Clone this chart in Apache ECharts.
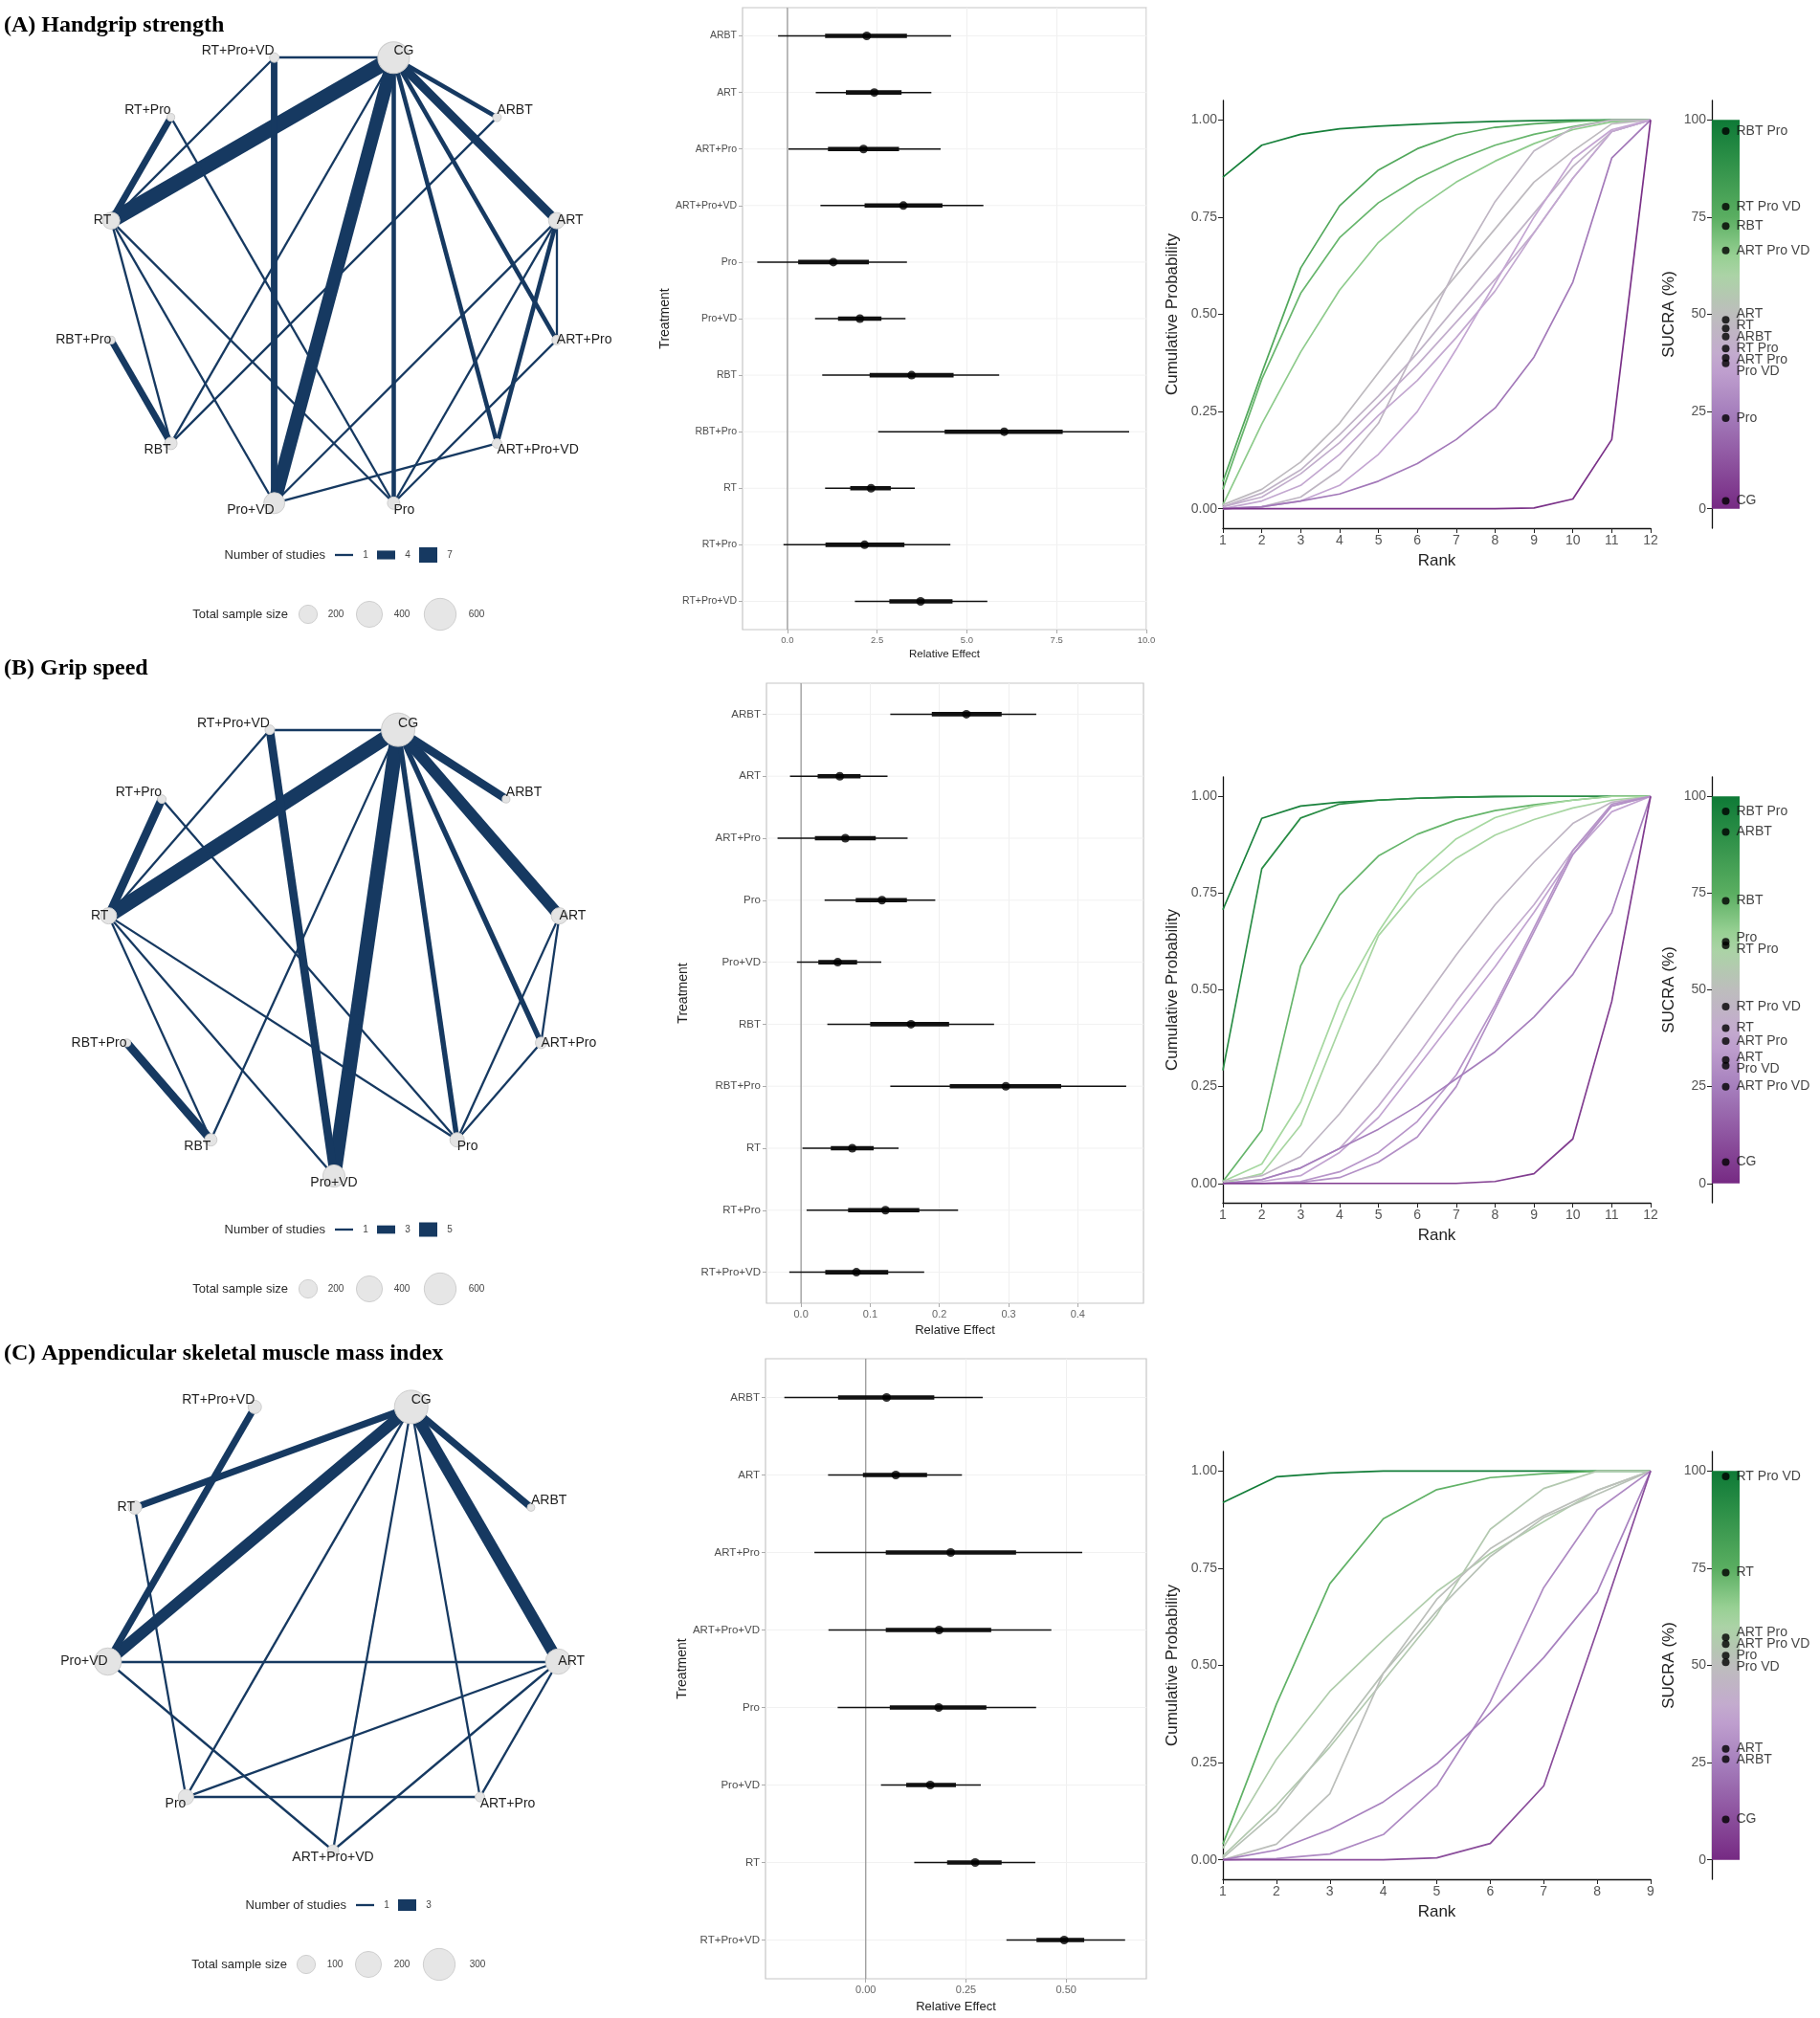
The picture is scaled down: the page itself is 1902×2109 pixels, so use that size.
<!DOCTYPE html>
<html>
<head>
<meta charset="utf-8">
<script src="https://cdn.jsdelivr.net/npm/echarts@6/dist/echarts.min.js"></script>
<style>
  html, body { margin: 0; padding: 0; background: #fff; }
  #c { width: 1902px; height: 2109px; }
</style>
</head>
<body>
<div id="c"></div>
<script>
// ---------------- data ----------------
// network plots: node order runs clockwise from CG
const netNamesA = ['CG', 'ARBT', 'ART', 'ART+Pro', 'ART+Pro+VD', 'Pro', 'Pro+VD', 'RBT', 'RBT+Pro', 'RT', 'RT+Pro', 'RT+Pro+VD'];
const sampleA = [590, 44, 156, 54, 54, 91, 260, 91, 35, 175, 35, 54];
const edgesA = [
    ['CG', 'RT+Pro+VD', 1], ['CG', 'RT', 7], ['CG', 'Pro+VD', 6], ['CG', 'Pro', 2], ['CG', 'ARBT', 2],
    ['CG', 'ART', 4], ['CG', 'ART+Pro', 2], ['CG', 'ART+Pro+VD', 2], ['CG', 'RBT', 1],
    ['RT+Pro+VD', 'Pro+VD', 3], ['RT+Pro+VD', 'RT', 1], ['RT+Pro', 'RT', 3], ['RT+Pro', 'Pro', 1],
    ['RT', 'RBT', 1], ['RT', 'Pro+VD', 1], ['RT', 'Pro', 1], ['RBT+Pro', 'RBT', 3], ['ARBT', 'RBT', 1],
    ['ART', 'ART+Pro', 1], ['ART', 'ART+Pro+VD', 2], ['ART', 'Pro', 1], ['ART', 'Pro+VD', 1],
    ['ART+Pro', 'Pro', 1], ['ART+Pro+VD', 'Pro+VD', 1]
];
const studyBreaksA = [1, 4, 7];
const sizeBreaksA = [200, 400, 600];

const netNamesB = ['CG', 'ARBT', 'ART', 'ART+Pro', 'Pro', 'Pro+VD', 'RBT', 'RBT+Pro', 'RT', 'RT+Pro', 'RT+Pro+VD'];
const sampleB = [660, 35, 156, 78, 122, 290, 91, 35, 156, 44, 54];
const edgesB = [
    ['CG', 'RT+Pro+VD', 1], ['CG', 'RT', 5], ['CG', 'Pro+VD', 5], ['CG', 'ART', 4], ['CG', 'ARBT', 3],
    ['CG', 'Pro', 2], ['CG', 'ART+Pro', 2], ['CG', 'RBT', 1],
    ['RT+Pro+VD', 'Pro+VD', 3], ['RT+Pro+VD', 'RT', 1], ['RT+Pro', 'RT', 3], ['RT+Pro', 'Pro', 1],
    ['RT', 'RBT', 1], ['RT', 'Pro+VD', 1], ['RT', 'Pro', 1], ['RBT+Pro', 'RBT', 3],
    ['ART', 'ART+Pro', 1], ['ART', 'Pro', 1], ['ART+Pro', 'Pro', 1]
];
const studyBreaksB = [1, 3, 5];
const sizeBreaksB = [200, 400, 600];

const netNamesC = ['CG', 'ARBT', 'ART', 'ART+Pro', 'ART+Pro+VD', 'Pro', 'Pro+VD', 'RT', 'RT+Pro+VD'];
const sampleC = [332, 17, 190, 27, 39, 70, 220, 53, 53];
const edgesC = [
    ['CG', 'RT', 2], ['CG', 'ARBT', 2], ['CG', 'ART', 3], ['CG', 'Pro+VD', 3], ['CG', 'Pro', 1],
    ['CG', 'ART+Pro+VD', 1], ['CG', 'ART+Pro', 1], ['RT+Pro+VD', 'Pro+VD', 2], ['RT', 'Pro', 1],
    ['Pro+VD', 'ART', 1], ['Pro+VD', 'ART+Pro+VD', 1], ['Pro', 'ART', 1], ['Pro', 'ART+Pro', 1],
    ['ART', 'ART+Pro+VD', 1], ['ART', 'ART+Pro', 1]
];
const studyBreaksC = [1, 3];
const sizeBreaksC = [100, 200, 300];

// forest plots: median, 95% and inner interval
const forestCatsA = ['ARBT', 'ART', 'ART+Pro', 'ART+Pro+VD', 'Pro', 'Pro+VD', 'RBT', 'RBT+Pro', 'RT', 'RT+Pro', 'RT+Pro+VD'];
const estA = [2.21, 2.42, 2.12, 3.23, 1.28, 2.02, 3.46, 6.04, 2.33, 2.15, 3.71];
const lo95A = [-0.26, 0.79, 0.03, 0.92, -0.84, 0.77, 0.97, 2.53, 1.05, -0.11, 1.88];
const hi95A = [4.56, 4.01, 4.27, 5.46, 3.33, 3.29, 5.90, 9.52, 3.55, 4.54, 5.57];
const loInA = [1.05, 1.63, 1.13, 2.15, 0.30, 1.41, 2.29, 4.38, 1.75, 1.06, 2.84];
const hiInA = [3.33, 3.18, 3.11, 4.32, 2.27, 2.62, 4.63, 7.67, 2.88, 3.26, 4.60];
const forestTicksA = [0, 2.5, 5, 7.5, 10];

const forestCatsB = ['ARBT', 'ART', 'ART+Pro', 'Pro', 'Pro+VD', 'RBT', 'RBT+Pro', 'RT', 'RT+Pro', 'RT+Pro+VD'];
const estB = [0.239, 0.056, 0.064, 0.117, 0.053, 0.159, 0.296, 0.074, 0.122, 0.080];
const lo95B = [0.129, -0.016, -0.034, 0.034, -0.006, 0.038, 0.129, 0.002, 0.008, -0.017];
const hi95B = [0.340, 0.125, 0.154, 0.194, 0.116, 0.279, 0.470, 0.141, 0.227, 0.178];
const loInB = [0.189, 0.024, 0.020, 0.079, 0.025, 0.100, 0.215, 0.043, 0.068, 0.035];
const hiInB = [0.290, 0.086, 0.108, 0.153, 0.081, 0.214, 0.376, 0.105, 0.171, 0.126];
const forestTicksB = [0, 0.1, 0.2, 0.3, 0.4];

const forestCatsC = ['ARBT', 'ART', 'ART+Pro', 'ART+Pro+VD', 'Pro', 'Pro+VD', 'RT', 'RT+Pro+VD'];
const estC = [0.052, 0.075, 0.212, 0.183, 0.182, 0.161, 0.273, 0.495];
const lo95C = [-0.203, -0.094, -0.128, -0.093, -0.070, 0.038, 0.121, 0.351];
const hi95C = [0.292, 0.240, 0.540, 0.463, 0.425, 0.287, 0.423, 0.647];
const loInC = [-0.069, -0.007, 0.050, 0.050, 0.060, 0.101, 0.203, 0.426];
const hiInC = [0.171, 0.153, 0.375, 0.313, 0.301, 0.225, 0.339, 0.545];
const forestTicksC = [0, 0.25, 0.5];

// cumulative ranking probabilities and SUCRA
const ranksA = [1, 2, 3, 4, 5, 6, 7, 8, 9, 10, 11, 12];
const cumNamesA = ['RBT Pro', 'RT Pro VD', 'RBT', 'ART Pro VD', 'ART', 'RT', 'ARBT', 'RT Pro', 'ART Pro', 'Pro VD', 'Pro', 'CG'];
const sucraA = [97.1, 77.7, 72.7, 66.4, 48.6, 46.4, 44.3, 41.2, 38.8, 37.4, 23.3, 2.0];
const cumA = [
    [0.853, 0.935, 0.963, 0.977, 0.984, 0.989, 0.993, 0.996, 0.998, 0.999, 1, 1],
    [0.07, 0.349, 0.619, 0.779, 0.871, 0.926, 0.962, 0.981, 0.99, 0.996, 1, 1],
    [0.05, 0.333, 0.554, 0.697, 0.787, 0.849, 0.896, 0.935, 0.963, 0.983, 1, 1],
    [0.01, 0.218, 0.403, 0.562, 0.685, 0.771, 0.84, 0.894, 0.939, 0.975, 0.995, 1],
    [0.01, 0.05, 0.12, 0.22, 0.35, 0.48, 0.6, 0.72, 0.84, 0.92, 0.99, 1],
    [0, 0.005, 0.03, 0.1, 0.22, 0.42, 0.62, 0.79, 0.92, 0.98, 1, 1],
    [0.005, 0.04, 0.1, 0.19, 0.29, 0.4, 0.52, 0.64, 0.76, 0.88, 0.97, 1],
    [0.005, 0.03, 0.09, 0.17, 0.27, 0.37, 0.48, 0.59, 0.71, 0.85, 0.97, 1],
    [0, 0.02, 0.06, 0.14, 0.24, 0.33, 0.44, 0.56, 0.71, 0.85, 0.97, 1],
    [0, 0.005, 0.02, 0.06, 0.14, 0.25, 0.41, 0.58, 0.75, 0.9, 0.975, 1],
    [0, 0.005, 0.02, 0.038, 0.071, 0.116, 0.178, 0.259, 0.39, 0.583, 0.902, 1],
    [0, 0, 0, 0, 0, 0, 0, 0, 0.002, 0.025, 0.178, 1]
];

const ranksB = [1, 2, 3, 4, 5, 6, 7, 8, 9, 10, 11, 12];
const cumNamesB = ['RBT Pro', 'ARBT', 'RBT', 'Pro', 'RT Pro', 'RT Pro VD', 'RT', 'ART Pro', 'ART', 'Pro VD', 'ART Pro VD', 'CG'];
const sucraB = [96.1, 90.8, 73.0, 62.4, 61.5, 45.7, 40.1, 36.8, 31.9, 30.4, 25.0, 5.5];
const cumB = [
    [0.707, 0.943, 0.975, 0.985, 0.99, 0.995, 0.998, 0.999, 1, 1, 1, 1],
    [0.292, 0.813, 0.944, 0.98, 0.99, 0.995, 0.998, 1, 1, 1, 1, 1],
    [0.005, 0.137, 0.562, 0.745, 0.846, 0.902, 0.939, 0.963, 0.978, 0.99, 1, 1],
    [0.005, 0.05, 0.21, 0.47, 0.65, 0.8, 0.89, 0.945, 0.975, 0.99, 1, 1],
    [0, 0.025, 0.15, 0.4, 0.64, 0.76, 0.84, 0.9, 0.94, 0.97, 0.99, 1],
    [0.005, 0.02, 0.07, 0.18, 0.31, 0.45, 0.59, 0.72, 0.83, 0.93, 0.985, 1],
    [0, 0.01, 0.04, 0.09, 0.2, 0.33, 0.47, 0.6, 0.72, 0.86, 0.975, 1],
    [0, 0.005, 0.02, 0.08, 0.17, 0.3, 0.43, 0.56, 0.7, 0.85, 0.96, 1],
    [0, 0, 0.005, 0.03, 0.08, 0.16, 0.28, 0.46, 0.66, 0.86, 0.98, 1],
    [0, 0, 0.003, 0.015, 0.055, 0.12, 0.25, 0.45, 0.65, 0.85, 0.975, 1],
    [0, 0.01, 0.04, 0.09, 0.14, 0.2, 0.27, 0.34, 0.43, 0.54, 0.7, 1],
    [0, 0, 0, 0, 0, 0, 0, 0.005, 0.025, 0.115, 0.47, 1]
];

const ranksC = [1, 2, 3, 4, 5, 6, 7, 8, 9];
const cumNamesC = ['RT Pro VD', 'RT', 'ART Pro', 'ART Pro VD', 'Pro', 'Pro VD', 'ART', 'ARBT', 'CG'];
const sucraC = [98.6, 73.9, 57.2, 55.5, 52.5, 50.8, 28.5, 25.9, 10.4];
const cumC = [
    [0.919, 0.985, 0.995, 1, 1, 1, 1, 1, 1],
    [0.04, 0.4, 0.71, 0.877, 0.952, 0.983, 0.993, 1, 1],
    [0.03, 0.259, 0.433, 0.565, 0.69, 0.788, 0.87, 0.95, 1],
    [0.01, 0.14, 0.29, 0.46, 0.63, 0.85, 0.955, 1, 1],
    [0.005, 0.124, 0.3, 0.48, 0.64, 0.78, 0.88, 0.94, 1],
    [0, 0.04, 0.17, 0.48, 0.67, 0.8, 0.885, 0.95, 1],
    [0, 0.003, 0.015, 0.065, 0.19, 0.406, 0.7, 0.9, 1],
    [0, 0.025, 0.078, 0.149, 0.247, 0.378, 0.52, 0.688, 1],
    [0, 0, 0, 0, 0.005, 0.042, 0.19, 0.59, 1]
];

const probTicks = [0, 0.25, 0.5, 0.75, 1];
const sucraTicks = [0, 25, 50, 75, 100];
const titles = ['(A) Handgrip strength', '(B) Grip speed', '(C) Appendicular skeletal muscle mass index'];

// ---------------- styling / layout ----------------
const NAVY = '#163961';
const SANS = "'Liberation Sans', Arial, sans-serif";
const SERIF = "'Liberation Serif', 'Times New Roman', serif";

const prgnStops = [[0, '#762a83'], [25, '#a67fbd'], [37.5, '#c4a6d2'], [50, '#bdbdbd'],
    [62.5, '#a6d8a0'], [75, '#5aae61'], [100, '#0e7a36']];
function hexRgb(h) { return [1, 3, 5].map(i => parseInt(h.substr(i, 2), 16)); }
function prgn(s) {
    for (let i = 1; i < prgnStops.length; i++) {
        if (s <= prgnStops[i][0]) {
            const t = (s - prgnStops[i - 1][0]) / (prgnStops[i][0] - prgnStops[i - 1][0]);
            const a = hexRgb(prgnStops[i - 1][1]), b = hexRgb(prgnStops[i][1]);
            return 'rgb(' + a.map((v, j) => Math.round(v + (b[j] - v) * t)).join(',') + ')';
        }
    }
    return prgnStops[prgnStops.length - 1][1];
}

// push overlapping labels apart (like ggrepel), returns pixel shifts
function repelShifts(vals, pxPerUnit, gap) {
    const ys = vals.map(v => -v * pxPerUnit);
    const order = ys.map((y, i) => i).sort((a, b) => ys[a] - ys[b]);
    const pos = order.map(i => ys[i]);
    for (let it = 0; it < 300; it++) {
        let moved = false;
        for (let k = 1; k < pos.length; k++) {
            const d = pos[k] - pos[k - 1];
            if (d < gap - 0.01) { const s = (gap - d) / 2; pos[k - 1] -= s; pos[k] += s; moved = true; }
        }
        if (!moved) break;
    }
    const out = [];
    order.forEach((i, k) => { out[i] = pos[k] - ys[i]; });
    return out;
}

const nets = [
    { names: netNamesA, sample: sampleA, edges: edgesA, nb: studyBreaksA, sb: sizeBreaksA,
      center: [349, 293], r: 241, k: 1.36, wMax: 16, titleY: 27,
      legY1: 580, legY2: 642, keyText: 340, keyX: 350, sizeText: 301, circX: [322, 386, 460], circLab: [351, 420, 498] },
    { names: netNamesB, sample: sampleB, edges: edgesB, nb: studyBreaksB, sb: sizeBreaksB,
      center: [349, 991], r: 238, k: 1.36, wMax: 15, titleY: 699,
      legY1: 1285, legY2: 1347, keyText: 340, keyX: 350, sizeText: 301, circX: [322, 386, 460], circLab: [351, 420, 498] },
    { names: netNamesC, sample: sampleC, edges: edgesC, nb: studyBreaksC, sb: sizeBreaksC,
      center: [348, 1695], r: 239, k: 1.92, wMax: 12, titleY: 1415,
      legY1: 1991, legY2: 2053, keyText: 362, keyX: 372, sizeText: 300, circX: [320, 385, 459], circLab: [350, 420, 499] }
];

const forests = [
    { cats: forestCatsA, est: estA, lo: lo95A, hi: hi95A, lo2: loInA, hi2: hiInA, ticks: forestTicksA,
      grid: { left: 776, top: 8, width: 422, height: 650 }, min: -1.25, max: 10, interval: 1.25, dec: 1,
      yFont: 10.5, xFont: 9.5, nameFont: 11.5, yGap: 58, xGap: 20 },
    { cats: forestCatsB, est: estB, lo: lo95B, hi: hi95B, lo2: loInB, hi2: hiInB, ticks: forestTicksB,
      grid: { left: 801, top: 714, width: 394, height: 648 }, min: -0.05, max: 0.495, interval: 0.05, dec: 1,
      yFont: 11.5, xFont: 11, nameFont: 13, yGap: 80, xGap: 22 },
    { cats: forestCatsC, est: estC, lo: lo95C, hi: hi95C, lo2: loInC, hi2: hiInC, ticks: forestTicksC,
      grid: { left: 800, top: 1420, width: 398, height: 648 }, min: -0.25, max: 0.70, interval: 0.125, dec: 2,
      yFont: 11.5, xFont: 11, nameFont: 13, yGap: 79, xGap: 23 }
];

const cums = [
    { ranks: ranksA, names: cumNamesA, sucra: sucraA, lines: cumA, top: 105, height: 447 },
    { ranks: ranksB, names: cumNamesB, sucra: sucraB, lines: cumB, top: 812, height: 445 },
    { ranks: ranksC, names: cumNamesC, sucra: sucraC, lines: cumC, top: 1517, height: 447 }
];

// ---------------- build option ----------------
const grid = [], xAxis = [], yAxis = [], series = [], graphic = [];
const polar = [], angleAxis = [], radiusAxis = [];

function txt(t, x, y, align, size, color, family, weight) {
    return { type: 'text', x: x, y: y, silent: true,
        style: { text: t, align: align, textAlign: align, verticalAlign: 'middle', textVerticalAlign: 'middle',
            fontSize: size, fontFamily: family || SANS, fontWeight: weight || 'normal', fill: color || '#222' } };
}

// networks
nets.forEach((n, p) => {
    const maxN = n.nb[n.nb.length - 1];
    const wfn = v => 2.3 + (v - 1) / (maxN - 1) * (n.wMax - 2.3);
    const sfn = s => n.k * Math.sqrt(s);
    polar.push({ center: n.center, radius: n.r });
    angleAxis.push({ polarIndex: p, type: 'category', data: n.names, startAngle: 90, clockwise: true, boundaryGap: true,
        axisLine: { show: false }, axisTick: { show: false }, axisLabel: { show: false }, splitLine: { show: false } });
    radiusAxis.push({ polarIndex: p, type: 'value', min: 0, max: 1,
        axisLine: { show: false }, axisTick: { show: false }, axisLabel: { show: false }, splitLine: { show: false } });
    const cnt = n.names.length;
    series.push({
        type: 'graph', coordinateSystem: 'polar', polarIndex: p, layout: 'none', silent: true,
        data: n.names.map((nm, i) => {
            const th = (i + 0.5) * 2 * Math.PI / cnt;
            const sn = Math.sin(th), cs = Math.cos(th);
            return {
                name: nm, value: [1, i], symbolSize: sfn(n.sample[i]),
                label: { align: sn > 0.05 ? 'left' : (sn < -0.05 ? 'right' : 'center'),
                         verticalAlign: cs > 0.5 ? 'bottom' : (cs < -0.5 ? 'top' : 'middle') }
            };
        }),
        links: n.edges.map(e => ({ source: e[0], target: e[1], lineStyle: { width: wfn(e[2]) } })),
        itemStyle: { color: '#e4e4e4', borderColor: '#cdcdcd', borderWidth: 1 },
        lineStyle: { color: NAVY, opacity: 1, curveness: 0 },
        label: { show: true, position: 'inside', formatter: '{b}', fontSize: 14, fontFamily: SANS, color: '#1e1e1e' },
        emphasis: { disabled: true }
    });
    // legend
    graphic.push(txt('Number of studies', n.keyText, n.legY1, 'right', 13, '#2a2a2a'));
    n.nb.forEach((v, i) => {
        const x = n.keyX + i * 44, h = wfn(v);
        graphic.push({ type: 'rect', silent: true, shape: { x: x, y: n.legY1 - h / 2, width: 19, height: h }, style: { fill: NAVY } });
        graphic.push(txt(String(v), x + 32, n.legY1, 'center', 10, '#444'));
    });
    graphic.push(txt('Total sample size', n.sizeText, n.legY2, 'right', 13, '#2a2a2a'));
    n.sb.forEach((v, i) => {
        graphic.push({ type: 'circle', silent: true, shape: { cx: n.circX[i], cy: n.legY2, r: sfn(v) / 2 },
            style: { fill: '#e6e6e6', stroke: '#cfcfcf', lineWidth: 1 } });
        graphic.push(txt(String(v), n.circLab[i], n.legY2, 'center', 10, '#444'));
    });
    graphic.push(txt(titles[p], 4, n.titleY, 'left', 24, '#000', SERIF, 'bold'));
});

// forest plots (grid 0..2)
forests.forEach((f, p) => {
    const gi = grid.length;
    grid.push(Object.assign({ show: true, borderColor: '#c6c6c6', borderWidth: 1.2, backgroundColor: '#fff' }, f.grid));
    xAxis.push({
        gridIndex: gi, type: 'value', min: f.min, max: f.max, interval: f.interval,
        axisLine: { show: false, onZero: false },
        axisTick: { show: true, customValues: f.ticks, length: 4, lineStyle: { color: '#aaa' } },
        axisLabel: { customValues: f.ticks, fontSize: f.xFont, fontFamily: SANS, color: '#666', margin: 6,
            formatter: v => (f.ticks.some(t => Math.abs(t - v) < 1e-9) ? v.toFixed(f.dec) : '') },
        splitLine: { show: true, lineStyle: { color: '#efefef', width: 1 } },
        name: 'Relative Effect', nameLocation: 'middle', nameGap: f.xGap,
        nameTextStyle: { fontSize: f.nameFont, fontFamily: SANS, color: '#222' }
    });
    yAxis.push({
        gridIndex: gi, type: 'category', data: f.cats, inverse: true,
        axisLine: { show: false, onZero: false },
        axisTick: { show: true, alignWithLabel: true, length: 4, lineStyle: { color: '#aaa' } },
        axisLabel: { fontSize: f.yFont, fontFamily: SANS, color: '#4d4d4d', margin: 6 },
        splitLine: { show: false },
        name: 'Treatment', nameLocation: 'middle', nameGap: f.yGap,
        nameTextStyle: { fontSize: 14, fontFamily: SANS, color: '#222' }
    });
    // faint horizontal grid lines at each treatment
    series.push({
        type: 'custom', xAxisIndex: gi, yAxisIndex: gi, silent: true, z: 1,
        data: f.cats.map((c, i) => [i]), encode: { y: 0 },
        renderItem: (params, api) => {
            const cs = params.coordSys;
            const y = api.coord([0, api.value(0)])[1];
            return { type: 'line', shape: { x1: cs.x, y1: y, x2: cs.x + cs.width, y2: y }, style: { stroke: '#f1f1f1', lineWidth: 1 } };
        }
    });
    // zero reference line
    series.push({
        type: 'custom', xAxisIndex: gi, yAxisIndex: gi, silent: true, z: 2,
        data: [[0, 0]], encode: { x: 0, y: 1 },
        renderItem: (params, api) => {
            const cs = params.coordSys;
            const x = api.coord([api.value(0), 0])[0];
            return { type: 'line', shape: { x1: x, y1: cs.y, x2: x, y2: cs.y + cs.height }, style: { stroke: '#9a9a9a', lineWidth: 1.3 } };
        }
    });
    // credible intervals
    series.push({
        type: 'custom', xAxisIndex: gi, yAxisIndex: gi, silent: true, z: 3,
        data: f.cats.map((c, i) => [i, f.lo[i], f.hi[i], f.lo2[i], f.hi2[i]]),
        encode: { y: 0, x: [1, 2, 3, 4] },
        renderItem: (params, api) => {
            const y = api.value(0);
            const a = api.coord([api.value(1), y]), b = api.coord([api.value(2), y]);
            const c = api.coord([api.value(3), y]), d = api.coord([api.value(4), y]);
            return { type: 'group', children: [
                { type: 'line', shape: { x1: a[0], y1: a[1], x2: b[0], y2: b[1] }, style: { stroke: '#111', lineWidth: 1.5 } },
                { type: 'line', shape: { x1: c[0], y1: c[1], x2: d[0], y2: d[1] }, style: { stroke: '#111', lineWidth: 4.6 } }
            ] };
        }
    });
    series.push({
        type: 'scatter', xAxisIndex: gi, yAxisIndex: gi, silent: true, z: 4,
        data: f.est.map((v, i) => [v, i]), symbolSize: 9, itemStyle: { color: '#000' }
    });
});

// cumulative ranking plots (grid 3..5) and SUCRA bars (grid 6..8)
cums.forEach((c, p) => {
    const gi = grid.length;
    grid.push({ left: 1278, top: c.top, width: 447, height: c.height });
    xAxis.push({
        gridIndex: gi, type: 'value', min: c.ranks[0], max: c.ranks[c.ranks.length - 1], interval: 1,
        axisLine: { show: true, onZero: false, lineStyle: { color: '#111', width: 1.3 } },
        axisTick: { show: true, length: 5, lineStyle: { color: '#222' } },
        axisLabel: { fontSize: 14, fontFamily: SANS, color: '#555', margin: 6 },
        splitLine: { show: false },
        name: 'Rank', nameLocation: 'middle', nameGap: 26,
        nameTextStyle: { fontSize: 17, fontFamily: SANS, color: '#222' }
    });
    yAxis.push({
        gridIndex: gi, type: 'value', min: -0.05, max: 1.05,
        axisLine: { show: true, onZero: false, lineStyle: { color: '#111', width: 1.3 } },
        axisTick: { show: true, customValues: probTicks, length: 5, lineStyle: { color: '#222' } },
        axisLabel: { customValues: probTicks, formatter: v => v.toFixed(2), fontSize: 14, fontFamily: SANS, color: '#555', margin: 6 },
        splitLine: { show: false },
        name: 'Cumulative Probability', nameLocation: 'middle', nameGap: 44,
        nameTextStyle: { fontSize: 17, fontFamily: SANS, color: '#222' }
    });
    c.lines.forEach((arr, i) => {
        const col = prgn(c.sucra[i]);
        series.push({
            type: 'line', xAxisIndex: gi, yAxisIndex: gi, silent: true, z: 2,
            name: c.names[i], data: c.ranks.map((r, j) => [r, arr[j]]),
            symbol: 'none', showSymbol: false, lineStyle: { color: col, width: 1.7 }, itemStyle: { color: col },
            emphasis: { disabled: true }
        });
    });
});

cums.forEach((c, p) => {
    const gi = grid.length;
    grid.push({ left: 1789, top: c.top, width: 29, height: c.height });
    xAxis.push({ gridIndex: gi, type: 'category', data: ['SUCRA'], show: false });
    yAxis.push({
        gridIndex: gi, type: 'value', min: -5, max: 105,
        axisLine: { show: true, onZero: false, lineStyle: { color: '#111', width: 1.3 } },
        axisTick: { show: true, customValues: sucraTicks, length: 5, lineStyle: { color: '#222' } },
        axisLabel: { customValues: sucraTicks, fontSize: 14, fontFamily: SANS, color: '#555', margin: 6 },
        splitLine: { show: false },
        name: 'SUCRA (%)', nameLocation: 'middle', nameGap: 36,
        nameTextStyle: { fontSize: 17, fontFamily: SANS, color: '#222' }
    });
    const stops = [];
    for (let s = 100; s >= 0; s -= 5) stops.push({ offset: (100 - s) / 100, color: prgn(s) });
    series.push({
        type: 'bar', xAxisIndex: gi, yAxisIndex: gi, silent: true, z: 1,
        data: [sucraTicks[sucraTicks.length - 1]], barWidth: '100%',
        itemStyle: { color: new echarts.graphic.LinearGradient(0, 0, 0, 1, stops) }
    });
    const shifts = repelShifts(c.sucra, c.height / 110, 12);
    series.push({
        type: 'scatter', xAxisIndex: gi, yAxisIndex: gi, silent: true, z: 3,
        data: c.sucra.map((v, i) => ({ name: c.names[i], value: [0, v], label: { offset: [0, shifts[i]] } })),
        symbolSize: 8, itemStyle: { color: '#000' },
        label: { show: true, position: 'right', distance: 7, formatter: '{b}', fontSize: 14, fontFamily: SANS, color: '#111' }
    });
});

const chart = echarts.init(document.getElementById('c'), null, { renderer: 'canvas', width: 1902, height: 2109 });
chart.setOption({
    animation: false,
    backgroundColor: '#fff',
    polar: polar, angleAxis: angleAxis, radiusAxis: radiusAxis,
    grid: grid, xAxis: xAxis, yAxis: yAxis,
    series: series,
    graphic: graphic
});
</script>
</body>
</html>
